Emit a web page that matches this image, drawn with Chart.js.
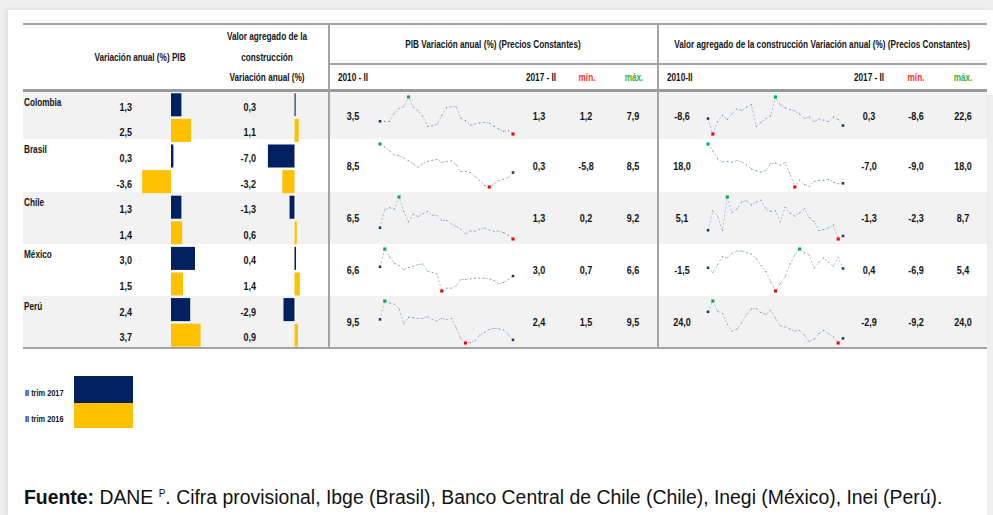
<!DOCTYPE html>
<html lang="es">
<head>
<meta charset="UTF-8" />
<title>PIB y valor agregado de la construcción – variación anual</title>
<script src="https://cdn.jsdelivr.net/npm/chart.js@4"></script>
<style>
  html, body { margin: 0; padding: 0; }
  body {
    width: 993px; height: 515px; position: relative; overflow: hidden;
    background: #efefef;
    font-family: "Liberation Sans", Arial, sans-serif;
    color: #141414;
  }
  #hoja { position: absolute; left: 8px; top: 10px; width: 985px; height: 505px; background: #fff; box-shadow: -2px 0 5px rgba(0,0,0,0.08); }
  #borde-der { position: absolute; left: 987px; top: 95px; width: 6px; height: 420px; background: #efefef; }
  /* letra estrecha: Liberation Sans comprimida horizontalmente */
  .txt { position: absolute; white-space: nowrap; font-weight: bold; font-size: 10px; line-height: 1; }
  .num { font-size: 11px; }
  .ley { font-size: 9px; }
  .linea { position: absolute; background: #a3a3a3; }
  .banda { position: absolute; background: #f2f2f2; }
  .abs { position: absolute; }
  canvas { position: absolute; }
  #fuente { position: absolute; left: 24px; top: 486px; font-size: 19.4px; color: #111; white-space: nowrap; }
  #fuente sup { font-size: 10px; }
</style>
</head>
<body>
<div id="hoja"></div>
<div id="borde-der"></div>
<div id="fuente"><b>Fuente:</b> DANE <sup>P</sup>. Cifra provisional, Ibge (Brasil), Banco Central de Chile (Chile), Inegi (México), Inei (Perú).</div>

<script>
// Países y valores del II trimestre
const paises = ["Colombia", "Brasil", "Chile", "México", "Perú"];
const pib2017 = [1.3, 0.3, 1.3, 3.0, 2.4];
const pib2016 = [2.5, -3.6, 1.4, 1.5, 3.7];
const constr2017 = [0.3, -7.0, -1.3, 0.4, -2.9];
const constr2016 = [1.1, -3.2, 0.6, 1.4, 0.9];

// Columnas de las series (2010-II, mín., máx.); 2017-II = valores de 2017
const pibInicio = [3.5, 8.5, 6.5, 6.6, 9.5];
const pibMin = [1.2, -5.8, 0.2, 0.7, 1.5];
const pibMax = [7.9, 8.5, 9.2, 6.6, 9.5];
const constrInicio = [-8.6, 18.0, 5.1, -1.5, 24.0];
const constrMin = [-8.6, -9.0, -2.3, -6.9, -9.2];
const constrMax = [22.6, 18.0, 8.7, 5.4, 24.0];

const trimestres = [
  "2010-I", "2010-II", "2010-III", "2010-IV", "2011-I", "2011-II", "2011-III", "2011-IV",
  "2012-I", "2012-II", "2012-III", "2012-IV", "2013-I", "2013-II", "2013-III", "2013-IV",
  "2014-I", "2014-II", "2014-III", "2014-IV", "2015-I", "2015-II", "2015-III", "2015-IV",
  "2016-I", "2016-II", "2016-III", "2016-IV", "2017-I"
];

// PIB variación anual (%)
const pibColombia = [3.5, 3.5, 3.5, 4.9, 5.8, 6.2, 7.9, 6.1, 5.4, 4.4, 2.6, 2.7, 3.0, 4.5, 6.0, 6.1, 6.2, 4.1, 3.6, 2.8, 3.0, 3.2, 3.3, 3.2, 2.6, 2.1, 1.7, 1.8, 1.2];
const pibBrasil   = [8.5, 7.5, 6.2, 4.9, 4.6, 3.9, 2.9, 1.9, 0.8, 1.9, 2.7, 3.1, 3.4, 2.4, 2.7, 2.9, 1.7, -0.7, -0.7, -1.0, -2.2, -3.7, -5.3, -5.8, -4.8, -3.7, -3.2, -2.7, -1.0];
const pibChile    = [2.6, 6.5, 6.9, 6.6, 9.2, 6.1, 3.9, 5.5, 5.0, 5.6, 6.1, 5.3, 5.2, 4.2, 4.2, 3.4, 2.9, 2.3, 1.3, 1.9, 1.9, 2.3, 2.6, 2.1, 1.9, 1.9, 1.6, 1.0, 0.2];
const pibMexico   = [4.1, 6.6, 5.5, 4.6, 4.3, 3.7, 4.0, 4.2, 4.4, 4.5, 3.5, 3.3, 3.1, 0.7, 1.1, 1.1, 1.4, 2.3, 2.3, 2.4, 2.5, 2.5, 2.5, 2.4, 2.2, 1.7, 1.9, 2.3, 2.8];
const pibPeru     = [6.0, 9.5, 9.1, 8.9, 8.0, 5.1, 6.4, 6.3, 6.2, 6.2, 6.5, 6.0, 5.7, 6.2, 6.0, 6.2, 4.5, 2.4, 1.5, 1.6, 1.9, 3.0, 3.5, 4.1, 4.3, 4.2, 4.0, 3.1, 2.1];

// Valor agregado de la construcción, variación anual (%)
const constrColombia = [4.4, -8.6, 1.8, 7.0, 3.6, 8.8, 12.5, 11.4, 14.0, 16.1, -2.1, 1.0, 4.4, 6.8, 22.6, 16.1, 13.5, 11.9, 10.9, 8.3, 4.4, 5.7, 1.8, 4.2, 3.1, 1.8, 5.7, 3.6, -1.5];
const constrBrasil   = [18.0, 13.7, 8.6, 6.6, 7.0, 6.6, 7.6, 6.8, 4.9, 2.3, 1.2, 0.4, 1.4, 5.7, 5.9, 4.7, 6.3, -0.6, -9.0, -4.7, -7.4, -8.6, -5.5, -4.9, -4.7, -4.3, -5.9, -7.0, -6.7];
const constrChile    = [0.0, 5.1, 3.7, 0.0, 8.7, 4.6, 5.6, 7.4, 7.7, 6.6, 7.4, 7.9, 5.6, 4.9, 5.1, 2.2, 6.0, 4.5, 3.7, 4.5, 5.6, 3.3, 2.3, -0.1, 0.2, 0.6, 1.4, -2.3, -1.5];
const constrMexico   = [-0.1, -1.5, 0.8, 3.2, 2.8, 4.1, 4.8, 4.8, 4.3, 3.9, 2.6, 0.6, -1.2, -4.2, -6.9, -4.7, -2.7, 1.0, 3.6, 5.4, 4.3, 3.6, -0.2, 1.5, 2.8, 1.5, 0.4, 3.0, -0.3];
const constrPeru     = [15.4, 24.0, 15.9, 14.2, 5.6, 0.2, 1.9, 6.8, 13.4, 17.9, 17.9, 14.9, 13.4, 16.6, 10.5, 4.3, 3.6, 1.9, 0.2, 0.7, -3.0, -7.9, -6.2, -1.8, 0.7, -1.8, -4.3, -9.2, -5.5];

const seriesPib = [pibColombia, pibBrasil, pibChile, pibMexico, pibPeru];
const seriesConstr = [constrColombia, constrBrasil, constrChile, constrMexico, constrPeru];

const AZUL = "#002060";
const AMARILLO = "#ffc000";
const ESTRECHO = 0.82; // ancho relativo para imitar Arial Narrow

// bordes verticales de cada fila de país
const filas = [92, 139, 192, 244, 296, 348];

const fmt = v => v.toFixed(1).replace(".", ",");

function caja(clase, x, y, w, h, color) {
  const d = document.createElement("div");
  d.className = clase;
  Object.assign(d.style, { left: x + "px", top: y + "px", width: w + "px", height: h + "px" });
  if (color) d.style.background = color;
  document.body.appendChild(d);
  return d;
}

function texto(t, x, y, alinear, clase, color) {
  const d = document.createElement("div");
  d.className = "txt " + (clase || "");
  d.textContent = t;
  d.style.left = x + "px";
  d.style.top = y + "px";
  const tx = alinear === "center" ? "-50%" : alinear === "right" ? "-100%" : "0";
  d.style.transformOrigin = alinear === "center" ? "center" : alinear === "right" ? "right" : "left";
  d.style.transform = "translate(" + tx + ", -50%) scaleX(" + ESTRECHO + ")";
  if (color) d.style.color = color;
  document.body.appendChild(d);
}

function lienzo(x, y, w, h) {
  const c = document.createElement("canvas");
  c.width = w; c.height = h;
  c.style.left = x + "px"; c.style.top = y + "px";
  document.body.appendChild(c);
  return c;
}

// franjas grises alternas
paises.forEach((p, i) => {
  if (i % 2 === 0) caja("banda", 23, filas[i], 964, filas[i + 1] - filas[i]);
});
caja("abs", 294, 92, 2, 256, "#ffffff");

// reglas de la tabla
caja("linea", 23, 23, 964, 2);
caja("linea", 328, 63, 659, 2);
caja("linea", 23, 89, 964, 3, "#9a9a9a");
caja("linea", 23, 347, 964, 2);
caja("linea", 328, 23, 2, 326);
caja("linea", 657, 23, 2, 326);

// encabezados
texto("Variación anual (%) PIB", 140, 58, "center");
texto("Valor agregado de la", 267, 37, "center");
texto("construcción", 267, 58, "center");
texto("Variación anual (%)", 267, 78, "center");
texto("PIB Variación anual (%) (Precios Constantes)", 493, 45, "center");
texto("Valor agregado de la construcción  Variación anual (%)  (Precios Constantes)", 822, 45, "center");
texto("2010 - II", 338, 78, "left");
texto("2017 - II", 541, 78, "center");
texto("mín.", 587, 78, "center", "", "#ff2b2b");
texto("máx.", 634, 78, "center", "", "#3aae3a");
texto("2010-II", 667, 78, "left");
texto("2017 - II", 869, 78, "center");
texto("mín.", 916, 78, "center", "", "#ff2b2b");
texto("máx.", 963, 78, "center", "", "#3aae3a");

// textos de cada fila
paises.forEach((p, i) => {
  const top = filas[i], mid = (filas[i] + filas[i + 1]) / 2;
  const y17 = 92 + 51.2 * i + 12.8 + 2, y16 = y17 + 25.6;
  texto(p, 24, top + 11, "left");
  texto(fmt(pib2017[i]), 132, y17, "right", "num");
  texto(fmt(pib2016[i]), 132, y16, "right", "num");
  texto(fmt(constr2017[i]), 256, y17, "right", "num");
  texto(fmt(constr2016[i]), 256, y16, "right", "num");

  texto(fmt(pibInicio[i]), 353, mid, "center", "num");
  texto(fmt(pib2017[i]), 539, mid, "center", "num");
  texto(fmt(pibMin[i]), 586, mid, "center", "num");
  texto(fmt(pibMax[i]), 633, mid, "center", "num");

  texto(fmt(constrInicio[i]), 682, mid, "center", "num");
  texto(fmt(constr2017[i]), 869, mid, "center", "num");
  texto(fmt(constrMin[i]), 916, mid, "center", "num");
  texto(fmt(constrMax[i]), 963, mid, "center", "num");
});

// barras horizontales: II trim 2017 y II trim 2016
function barras(x, w, v17, v16, min, max) {
  new Chart(lienzo(x, 92, w, 256), {
    type: "bar",
    data: {
      labels: paises,
      datasets: [
        { label: "II trim 2017", data: v17, backgroundColor: AZUL },
        { label: "II trim 2016", data: v16, backgroundColor: AMARILLO }
      ]
    },
    options: {
      indexAxis: "y",
      responsive: false,
      animation: false,
      events: [],
      datasets: { bar: { categoryPercentage: 1, barPercentage: 0.9 } },
      plugins: { legend: { display: false }, tooltip: { enabled: false } },
      layout: { padding: 0 },
      scales: {
        x: { display: false, min: min, max: max },
        y: { display: false }
      }
    }
  });
}
barras(139, 64, pib2017, pib2016, -4, 4);
barras(266, 38, constr2017, constr2016, -7.5, 2.5);

// minigráficos de línea con marcadores de inicio, fin, máximo y mínimo
function sparkline(x, w, i, serie) {
  const alto = Math.max(...serie), bajo = Math.min(...serie);
  const iMax = serie.indexOf(alto);
  const iMin = serie.indexOf(bajo);
  const ultimo = serie.length - 1;
  const colores = serie.map((v, k) =>
    k === iMax ? "#00b050" : k === iMin ? "#ff0000" : (k === 0 || k === ultimo) ? "#1f3864" : "#5a6c8a");
  const radios = serie.map((v, k) =>
    (k === iMax || k === iMin) ? 2.2 : (k === 0 || k === ultimo) ? 1.8 : 0.6);

  new Chart(lienzo(x, filas[i] + 1, w, filas[i + 1] - filas[i] - 2), {
    type: "line",
    data: {
      labels: trimestres,
      datasets: [{
        data: serie,
        borderColor: "#a9bcd8",
        borderWidth: 1,
        borderDash: [2, 2],
        pointStyle: "rect",
        pointRadius: radios,
        pointBackgroundColor: colores,
        pointBorderWidth: 0,
        tension: 0,
        clip: false
      }]
    },
    options: {
      responsive: false,
      animation: false,
      events: [],
      plugins: { legend: { display: false }, tooltip: { enabled: false } },
      layout: { padding: 3 },
      scales: {
        x: { display: false },
        y: { display: false, min: bajo, max: alto }
      }
    }
  });
}
seriesPib.forEach((s, i) => sparkline(376, 141, i, s));
seriesConstr.forEach((s, i) => sparkline(704, 143, i, s));

// leyenda
caja("abs", 74, 376, 59, 27, AZUL);
caja("abs", 74, 403, 59, 25, AMARILLO);
texto("II trim 2017", 25, 393, "left", "ley");
texto("II trim 2016", 25, 419, "left", "ley");
</script>
</body>
</html>
